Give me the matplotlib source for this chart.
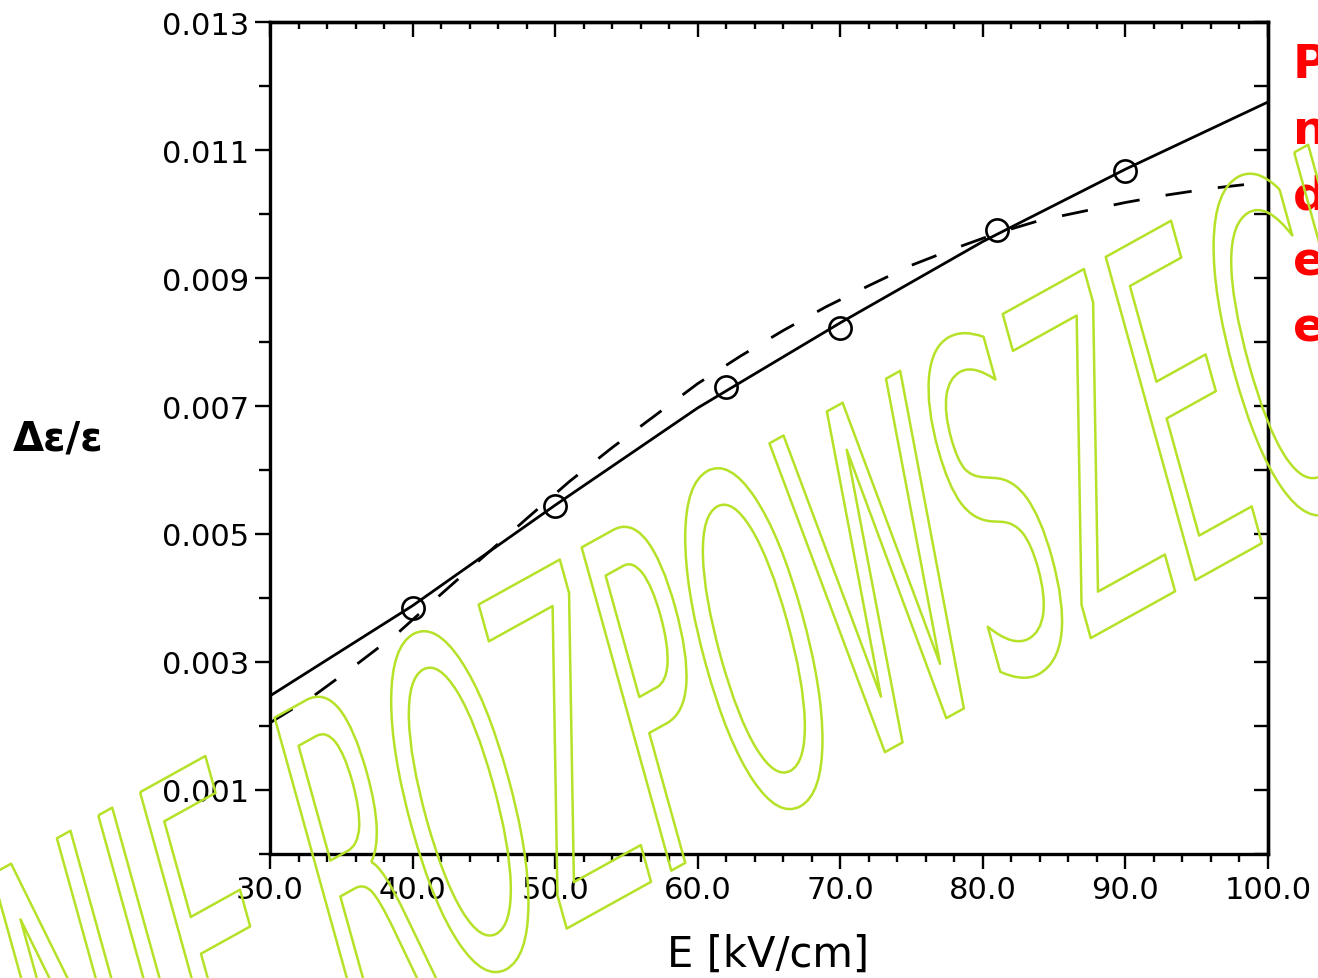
import numpy as np
import matplotlib
matplotlib.use("Agg")
import matplotlib.pyplot as plt
import matplotlib.patheffects as pe
from matplotlib.transforms import Affine2D, IdentityTransform
from matplotlib.ticker import MultipleLocator

# measured points (circles)
E_meas = [40, 50, 62, 70, 81, 90]
ratio_meas = [0.00384, 0.00544, 0.00730, 0.00822, 0.00975, 0.01067]

# solid curve
E_solid = [30, 40, 50, 60, 70, 80, 90, 100]
ratio_solid = [0.00247, 0.00388, 0.00545, 0.00697, 0.00830, 0.00957, 0.01070, 0.01175]

# dashed curve
E_dash = [30, 33, 36, 39, 42, 45, 48, 51, 54, 57, 60, 63, 66, 69, 72, 75, 78,
          81, 84, 87, 90, 93, 96, 100]
ratio_dash = [0.00205, 0.00246, 0.00295, 0.00346, 0.00406, 0.00465, 0.00524,
              0.00582, 0.00635, 0.00685, 0.00735, 0.00778, 0.00818, 0.00855,
              0.00888, 0.00920, 0.00946, 0.00970, 0.00990, 0.01004, 0.01018,
              0.01030, 0.01040, 0.01050]

x_major = [30, 40, 50, 60, 70, 80, 90, 100]
y_major = [0.001, 0.003, 0.005, 0.007, 0.009, 0.011, 0.013]
y_minor = [0.0, 0.002, 0.004, 0.006, 0.008, 0.010, 0.012]

watermark = "NIE ROZPOWSZECHNIAĆ"
side_letters = ["P", "n", "d", "e", "e"]

W, H = 1318, 979
fig = plt.figure(figsize=(W / 100, H / 100), dpi=100)
ax = fig.add_axes([270 / W, 1 - 855 / H, 998 / W, 832 / H])

ax.plot(E_solid, ratio_solid, color='k', lw=2)
ax.plot(E_dash, ratio_dash, color='k', lw=2, linestyle=(0, (9.5, 9.5)))
ax.plot(E_meas, ratio_meas, 'o', mfc='none', mec='k', ms=16, mew=1.9)

ax.set_xlim(30, 100)
ax.set_ylim(0, 0.013)
for s in ax.spines.values():
    s.set_linewidth(2.4)

ax.set_xticks(x_major)
ax.xaxis.set_minor_locator(MultipleLocator(2))
ax.set_xticklabels(['%.1f' % v for v in x_major])
ax.set_yticks(y_major)
ax.set_yticks(y_minor, minor=True)
ax.set_yticklabels(['%.3f' % v for v in y_major])
ax.tick_params(which='major', direction='out', length=11, width=1.7,
               labelsize=22, pad=4)
ax.tick_params(which='minor', direction='out', length=6, width=1.7)
ax.tick_params(axis='y', which='minor', length=8)

top = ax.secondary_xaxis('top')
top.set_xticks(x_major)
top.xaxis.set_minor_locator(MultipleLocator(2))
top.tick_params(which='major', direction='in', length=11, width=1.7, labeltop=False)
top.tick_params(which='minor', direction='in', length=5, width=1.7)
top.spines['top'].set_linewidth(2.4)

right = ax.secondary_yaxis('right')
right.set_yticks(y_major + y_minor)
right.tick_params(direction='in', length=10, width=1.7, labelright=False)
right.spines['right'].set_linewidth(2.4)

fig.text(768 / W, 1 - 955 / H, "E [kV/cm]", fontsize=30, ha='center', va='center')
fig.text(13 / W, 1 - 440 / H, "Δε/ε", fontsize=29, fontweight='bold',
         ha='left', va='center')

for i, ch in enumerate(side_letters):
    fig.text(1293 / W, 1 - (78 + 66 * i) / H, ch, color='red', fontsize=34,
             fontweight='bold', ha='left', va='baseline')


# stretched, tilted outline watermark
class Warp(pe.AbstractPathEffect):
    def __init__(self, extra, **kw):
        super().__init__()
        self._extra = extra
        self._gckw = kw

    def draw_path(self, renderer, gc, tpath, affine, rgbFace=None):
        gc0 = renderer.new_gc()
        gc0.copy_properties(gc)
        gc0 = self._update_gc(gc0, self._gckw)
        renderer.draw_path(gc0, tpath, affine + self._extra, None)
        gc0.restore()


su, sv = 162.0, 460.0
au, av = np.radians(29), np.radians(105.5)
X0, Y0 = 68.0, -227.0
M = np.array([[su * np.cos(au), sv * np.cos(av), X0],
              [su * np.sin(au), sv * np.sin(av), Y0],
              [0, 0, 1]])
extra = Affine2D().scale(1 / 100.0) + Affine2D(M)
fig.text(0, 0, watermark, transform=IdentityTransform(), fontsize=72,
         ha='left', va='baseline', color='#b5e228', zorder=10,
         path_effects=[Warp(extra, linewidth=1.8, foreground='#b5e228')])

fig.savefig("out.png", dpi=100)
